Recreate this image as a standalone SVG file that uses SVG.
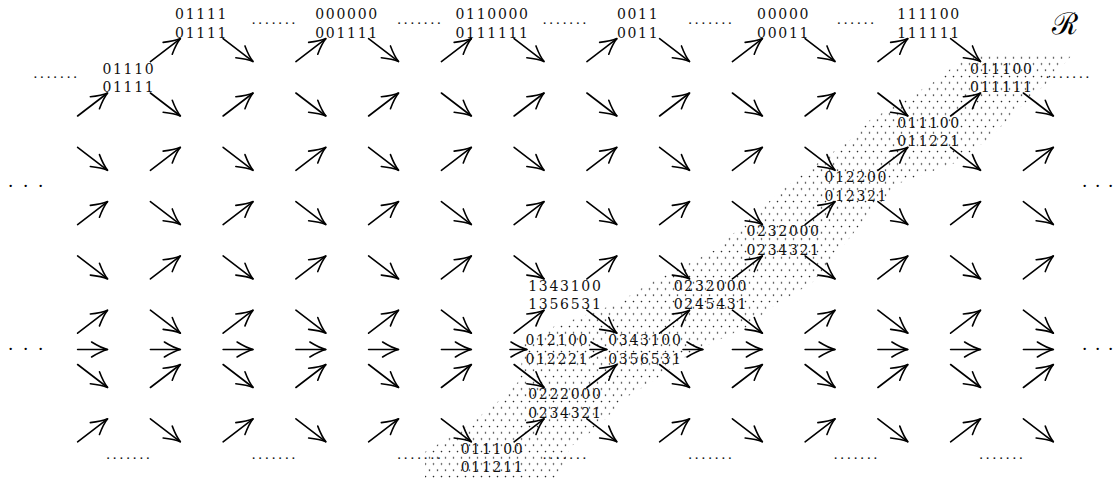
<svg xmlns="http://www.w3.org/2000/svg" xmlns:xlink="http://www.w3.org/1999/xlink" width="1113" height="483" viewBox="0 0 1113 483">
<style>
.lb{font-family:"DejaVu Serif","Liberation Serif",serif;font-size:14px;letter-spacing:1.7px;fill:#111;text-anchor:middle}
.dd{font-family:"Liberation Serif","Times New Roman",serif;font-size:15px;letter-spacing:2.9px;fill:#111;text-anchor:middle}
.cd{font-family:"Liberation Serif","Times New Roman",serif;font-size:19px;fill:#000}
.ar{stroke:#000;stroke-width:1.6;stroke-linecap:round;fill:none;marker-end:url(#hd)}
</style>
<defs>
<marker id="hd" markerUnits="userSpaceOnUse" viewBox="-19 -10 21 20" markerWidth="21" markerHeight="20" refX="0" refY="0" orient="auto">
<path d="M-16,-7.5 Q-6.5,-1.6 0,0 Q-6.5,1.6 -16,7.5" fill="none" stroke="#000" stroke-width="1.6" stroke-linecap="round"/>
</marker>
<pattern id="stip" width="8" height="12.5" patternUnits="userSpaceOnUse">
<circle cx="1.5" cy="1.5" r="0.8" fill="#222"/>
<circle cx="5.5" cy="7.75" r="0.8" fill="#222"/>
</pattern>
<line id="ne" class="ar" x1="-14" y1="11" x2="16" y2="-12"/>
<line id="se" class="ar" x1="-14" y1="-12" x2="16" y2="11"/>
<line id="hz" class="ar" x1="-14" y1="0" x2="16" y2="0"/>
</defs>
<rect width="1113" height="483" fill="#fff"/>
<polygon id="region" fill="url(#stip)" points="980,55 1072,55 1050,80 1012,115 990,138 955,163 900,183 868,215 840,250 812,283 775,305 745,328 692,352 660,377 625,398 598,427 570,447 558,480 425,480 425,452 465,428 500,400 520,380 523,345 553,327 618,303 650,283 715,250 752,217 782,190 808,170 850,140 870,120 905,100 940,78 957,63"/>
<g id="connectors">
<use href="#ne" x="164.4" y="50.6"/><use href="#se" x="237.1" y="50.6"/><use href="#ne" x="309.9" y="50.6"/><use href="#se" x="382.6" y="50.6"/><use href="#ne" x="455.4" y="50.6"/><use href="#se" x="528.1" y="50.6"/><use href="#ne" x="600.9" y="50.6"/><use href="#se" x="673.6" y="50.6"/><use href="#ne" x="746.4" y="50.6"/><use href="#se" x="819.1" y="50.6"/><use href="#ne" x="891.9" y="50.6"/><use href="#se" x="964.6" y="50.6"/>
<use href="#ne" x="91.6" y="105"/><use href="#se" x="164.4" y="105"/><use href="#ne" x="237.1" y="105"/><use href="#se" x="309.9" y="105"/><use href="#ne" x="382.6" y="105"/><use href="#se" x="455.4" y="105"/><use href="#ne" x="528.1" y="105"/><use href="#se" x="600.9" y="105"/><use href="#ne" x="673.6" y="105"/><use href="#se" x="746.4" y="105"/><use href="#ne" x="819.1" y="105"/><use href="#se" x="891.9" y="105"/><use href="#ne" x="964.6" y="105"/><use href="#se" x="1037.4" y="105"/>
<use href="#se" x="91.6" y="159.3"/><use href="#ne" x="164.4" y="159.3"/><use href="#se" x="237.1" y="159.3"/><use href="#ne" x="309.9" y="159.3"/><use href="#se" x="382.6" y="159.3"/><use href="#ne" x="455.4" y="159.3"/><use href="#se" x="528.1" y="159.3"/><use href="#ne" x="600.9" y="159.3"/><use href="#se" x="673.6" y="159.3"/><use href="#ne" x="746.4" y="159.3"/><use href="#se" x="819.1" y="159.3"/><use href="#ne" x="891.9" y="159.3"/><use href="#se" x="964.6" y="159.3"/><use href="#ne" x="1037.4" y="159.3"/>
<use href="#ne" x="91.6" y="213.6"/><use href="#se" x="164.4" y="213.6"/><use href="#ne" x="237.1" y="213.6"/><use href="#se" x="309.9" y="213.6"/><use href="#ne" x="382.6" y="213.6"/><use href="#se" x="455.4" y="213.6"/><use href="#ne" x="528.1" y="213.6"/><use href="#se" x="600.9" y="213.6"/><use href="#ne" x="673.6" y="213.6"/><use href="#se" x="746.4" y="213.6"/><use href="#ne" x="819.1" y="213.6"/><use href="#se" x="891.9" y="213.6"/><use href="#ne" x="964.6" y="213.6"/><use href="#se" x="1037.4" y="213.6"/>
<use href="#se" x="91.6" y="267.9"/><use href="#ne" x="164.4" y="267.9"/><use href="#se" x="237.1" y="267.9"/><use href="#ne" x="309.9" y="267.9"/><use href="#se" x="382.6" y="267.9"/><use href="#ne" x="455.4" y="267.9"/><use href="#se" x="528.1" y="267.9"/><use href="#ne" x="600.9" y="267.9"/><use href="#se" x="673.6" y="267.9"/><use href="#ne" x="746.4" y="267.9"/><use href="#se" x="819.1" y="267.9"/><use href="#ne" x="891.9" y="267.9"/><use href="#se" x="964.6" y="267.9"/><use href="#ne" x="1037.4" y="267.9"/>
<use href="#ne" x="91.6" y="322.2"/><use href="#se" x="164.4" y="322.2"/><use href="#ne" x="237.1" y="322.2"/><use href="#se" x="309.9" y="322.2"/><use href="#ne" x="382.6" y="322.2"/><use href="#se" x="455.4" y="322.2"/><use href="#ne" x="528.1" y="322.2"/><use href="#se" x="600.9" y="322.2"/><use href="#ne" x="673.6" y="322.2"/><use href="#se" x="746.4" y="322.2"/><use href="#ne" x="819.1" y="322.2"/><use href="#se" x="891.9" y="322.2"/><use href="#ne" x="964.6" y="322.2"/><use href="#se" x="1037.4" y="322.2"/>
<use href="#hz" x="91.6" y="349.5"/><use href="#hz" x="164.4" y="349.5"/><use href="#hz" x="237.1" y="349.5"/><use href="#hz" x="309.9" y="349.5"/><use href="#hz" x="382.6" y="349.5"/><use href="#hz" x="455.4" y="349.5"/>
<line class="ar" x1="510" y1="349.5" x2="527" y2="349.5"/><line class="ar" x1="590" y1="349.5" x2="607" y2="349.5"/><line class="ar" x1="683" y1="349.5" x2="703" y2="349.5"/>
<use href="#hz" x="746.4" y="349.5"/><use href="#hz" x="819.1" y="349.5"/><use href="#hz" x="891.9" y="349.5"/><use href="#hz" x="964.6" y="349.5"/><use href="#hz" x="1037.4" y="349.5"/>
<use href="#se" x="91.6" y="376.5"/><use href="#ne" x="164.4" y="376.5"/><use href="#se" x="237.1" y="376.5"/><use href="#ne" x="309.9" y="376.5"/><use href="#se" x="382.6" y="376.5"/><use href="#ne" x="455.4" y="376.5"/><use href="#se" x="528.1" y="376.5"/><use href="#ne" x="600.9" y="376.5"/><use href="#se" x="673.6" y="376.5"/><use href="#ne" x="746.4" y="376.5"/><use href="#se" x="819.1" y="376.5"/><use href="#ne" x="891.9" y="376.5"/><use href="#se" x="964.6" y="376.5"/><use href="#ne" x="1037.4" y="376.5"/>
<use href="#ne" x="91.6" y="430.8"/><use href="#se" x="164.4" y="430.8"/><use href="#ne" x="237.1" y="430.8"/><use href="#se" x="309.9" y="430.8"/><use href="#ne" x="382.6" y="430.8"/><use href="#se" x="455.4" y="430.8"/><use href="#ne" x="528.1" y="430.8"/><use href="#se" x="600.9" y="430.8"/><use href="#ne" x="673.6" y="430.8"/><use href="#se" x="746.4" y="430.8"/><use href="#ne" x="819.1" y="430.8"/><use href="#se" x="891.9" y="430.8"/><use href="#ne" x="964.6" y="430.8"/><use href="#se" x="1037.4" y="430.8"/>
</g>
<g id="n_0_1"><text class="lb" x="201.6" y="19.2">01111</text><text class="lb" x="201.6" y="37.7">01111</text></g>
<g id="n_0_3"><text class="lb" x="347.1" y="19.2">000000</text><text class="lb" x="347.1" y="37.7">001111</text></g>
<g id="n_0_5"><text class="lb" x="492.6" y="19.2">0110000</text><text class="lb" x="492.6" y="37.7">0111111</text></g>
<g id="n_0_7"><text class="lb" x="638.1" y="19.2">0011</text><text class="lb" x="638.1" y="37.7">0011</text></g>
<g id="n_0_9"><text class="lb" x="783.6" y="19.2">00000</text><text class="lb" x="783.6" y="37.7">00011</text></g>
<g id="n_0_11"><text class="lb" x="929.1" y="19.2">111100</text><text class="lb" x="929.1" y="37.7">111111</text></g>
<g id="n_1_0"><text class="lb" x="128.9" y="73.5">01110</text><text class="lb" x="128.9" y="92">01111</text></g>
<g id="n_1_12"><text class="lb" x="1001.9" y="73.5">011100</text><text class="lb" x="1001.9" y="92">011111</text></g>
<g id="n_2_11"><text class="lb" x="929.1" y="127.8">011100</text><text class="lb" x="929.1" y="146.3">011221</text></g>
<g id="n_3_10"><text class="lb" x="856.4" y="182.1">012200</text><text class="lb" x="856.4" y="200.6">012321</text></g>
<g id="n_4_9"><text class="lb" x="783.6" y="236.4">0232000</text><text class="lb" x="783.6" y="254.9">0234321</text></g>
<g id="n_5_6"><text class="lb" x="565.4" y="290.7">1343100</text><text class="lb" x="565.4" y="309.2">1356531</text></g>
<g id="n_5_8"><text class="lb" x="710.9" y="290.7">0232000</text><text class="lb" x="710.9" y="309.2">0245431</text></g>
<g id="n_6_6"><text class="lb" x="557.4" y="345">012100</text><text class="lb" x="557.4" y="363.5">012221</text></g>
<g id="n_6_7"><text class="lb" x="645.4" y="345">0343100</text><text class="lb" x="645.4" y="363.5">0356531</text></g>
<g id="n_7_6"><text class="lb" x="565.4" y="399.3">0222000</text><text class="lb" x="565.4" y="417.8">0234321</text></g>
<g id="n_8_5"><text class="lb" x="492.6" y="453.6">011100</text><text class="lb" x="492.6" y="472.1">011211</text></g>
<g id="dots">
<text class="dd" x="275" y="23.5">.......</text><text class="dd" x="420.5" y="23.5">.......</text><text class="dd" x="566" y="23.5">.......</text><text class="dd" x="711.5" y="23.5">.......</text><text class="dd" x="857" y="23.5">......</text>
<text class="dd" x="56.7" y="78.3">.......</text><text class="dd" x="1069" y="78.3">.......</text>
<text class="dd" x="129.5" y="459">.......</text><text class="dd" x="275" y="459">.......</text><text class="dd" x="420.5" y="459">.......</text><text class="dd" x="566" y="459">.......</text><text class="dd" x="711.5" y="459">.......</text><text class="dd" x="857" y="459">.......</text><text class="dd" x="1002.5" y="459">.......</text>
<text class="cd" x="7.6 22.6 37.6" y="192">···</text><text class="cd" x="7.6 22.6 37.6" y="355">···</text>
<text class="cd" x="1081.5 1094.5 1107.5" y="192">···</text><text class="cd" x="1081.5 1094.5 1107.5" y="355">···</text>
</g>
<text id="R" x="1052" y="34" font-family="DejaVu Serif, Noto Sans, serif" font-size="30" fill="#000">ℛ</text>
</svg>
